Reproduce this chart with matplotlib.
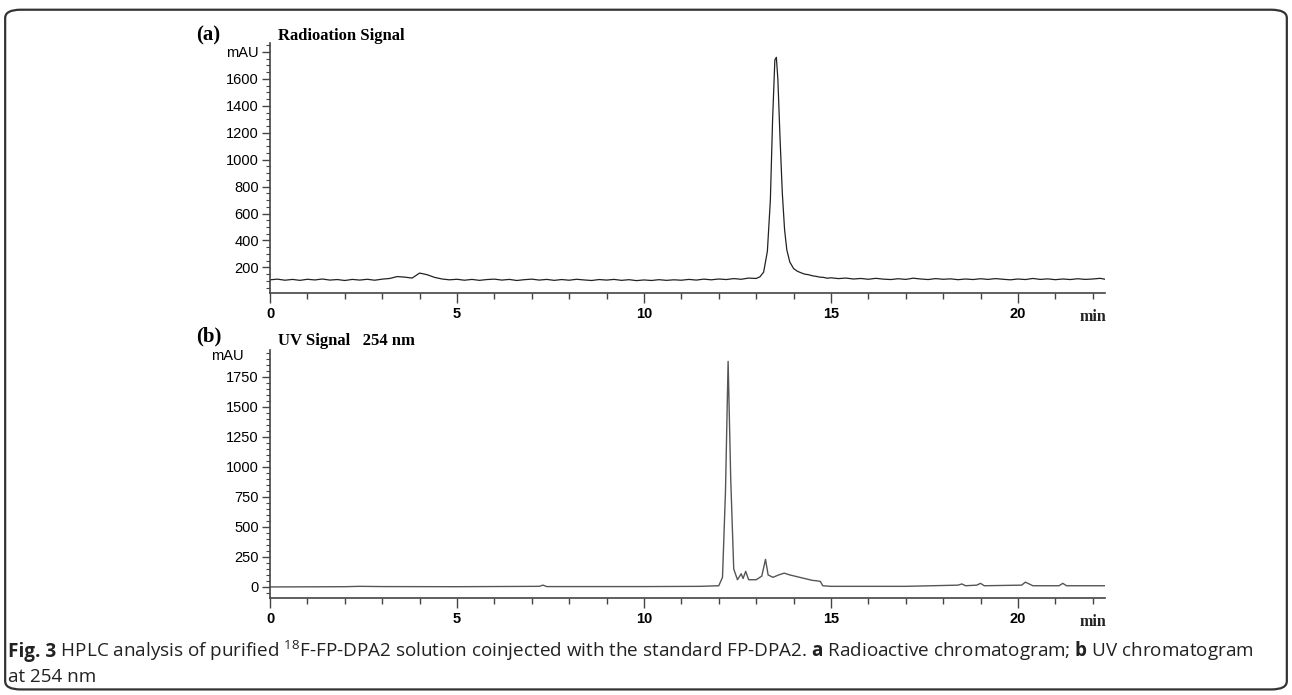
"""
HPLC du 18F-FP-DPA2 : signal radio (a) et UV 254 nm (b)
"""

import matplotlib
matplotlib.use("Agg")
import matplotlib.pyplot as plt
from matplotlib.patches import FancyBboxPatch
from matplotlib.ticker import MultipleLocator
import matplotlib.transforms as mtransforms

# ── Données ───────────────────────────────────────────────────────────────────
# (a) signal de radioactivité (mAU) en fonction du temps (min)
radio_t = [0.0, 0.2, 0.4, 0.6, 0.8, 1.0, 1.2, 1.4, 1.6, 1.8, 2.0, 2.2, 2.4, 2.6,
           2.8, 3.0, 3.2, 3.4, 3.6, 3.8, 4.0, 4.2, 4.4, 4.6, 4.8, 5.0, 5.2, 5.4,
           5.6, 5.8, 6.0, 6.2, 6.4, 6.6, 6.8, 7.0, 7.2, 7.4, 7.6, 7.8, 8.0, 8.2,
           8.4, 8.6, 8.8, 9.0, 9.2, 9.4, 9.6, 9.8, 10.0, 10.2, 10.4, 10.6, 10.8,
           11.0, 11.2, 11.4, 11.6, 11.8, 12.0, 12.2, 12.4, 12.6, 12.8, 13.0,
           13.1, 13.2, 13.3, 13.38, 13.44, 13.5, 13.54, 13.58, 13.64, 13.7, 13.76,
           13.82, 13.9, 14.0, 14.1, 14.2, 14.3, 14.4, 14.5, 14.6, 14.7, 14.8, 14.9,
           15.0, 15.2, 15.4, 15.6, 15.8, 16.0, 16.2, 16.4, 16.6, 16.8, 17.0, 17.2,
           17.4, 17.6, 17.8, 18.0, 18.2, 18.4, 18.6, 18.8, 19.0, 19.2, 19.4, 19.6,
           19.8, 20.0, 20.2, 20.4, 20.6, 20.8, 21.0, 21.2, 21.4, 21.6, 21.8, 22.0,
           22.2, 22.33]
radio_v = [108, 113, 105, 111, 104, 112, 107, 114, 106, 110, 103, 111, 106, 112,
           105, 113, 118, 132, 128, 121, 158, 146, 126, 114, 108, 112, 105, 111,
           104, 110, 113, 106, 111, 103, 109, 113, 106, 111, 104, 110, 105, 112,
           107, 103, 110, 106, 111, 104, 109, 102, 107, 103, 109, 104, 108,
           105, 111, 106, 113, 108, 114, 110, 117, 112, 121, 118,
           130, 165, 320, 700, 1300, 1740, 1760, 1600, 1150, 750, 480,
           330, 240, 192, 172, 160, 150, 146, 138, 134, 128, 126, 120,
           123, 117, 121, 114, 118, 112, 119, 113, 110, 116, 111, 120,
           114, 110, 117, 112, 115, 109, 114, 110, 116, 111, 117, 112,
           108, 114, 110, 118, 111, 115, 109, 114, 110, 116, 111, 114,
           119, 112]

# (b) signal UV 254 nm (mAU)
uv_t = [0, 2.0, 2.4, 3.0, 5.0, 7.2, 7.3, 7.4, 10.0, 11.5, 12.0, 12.1, 12.18,
        12.25, 12.32, 12.4, 12.5, 12.6, 12.65, 12.72, 12.8, 13.0, 13.15, 13.25,
        13.32, 13.45, 13.6, 13.75, 13.9, 14.1, 14.3, 14.5, 14.65, 14.72, 14.78,
        15.0, 17.0, 18.4, 18.5, 18.6, 18.9, 19.0, 19.1, 20.1, 20.2, 20.3, 20.4,
        21.1, 21.2, 21.3, 22.33]
uv_v = [0, 2, 5, 3, 2, 5, 15, 3, 3, 5, 10, 80, 800,
        1880, 900, 150, 60, 110, 70, 130, 60, 60, 90, 230,
        100, 80, 100, 115, 100, 85, 70, 55, 50, 45, 10,
        5, 5, 15, 25, 10, 15, 30, 10, 15, 40, 25, 10,
        10, 30, 10, 10]

radio_yticks = [200, 400, 600, 800, 1000, 1200, 1400, 1600, 1800]
radio_ylabels = ["200", "400", "600", "800", "1000", "1200", "1400", "1600", "mAU"]
uv_yticks = [0, 250, 500, 750, 1000, 1250, 1500, 1750]
x_ticks = [0, 5, 10, 15, 20]

caption_head = "Fig. 3"
caption_l1 = (r" HPLC analysis of purified $^{18}$F-FP-DPA2 solution "
              r"coinjected with the standard FP-DPA2. $\mathbf{a}$ Radioactive "
              r"chromatogram; $\mathbf{b}$ UV chromatogram")
caption_l2 = "at 254 nm"

# ── Style ─────────────────────────────────────────────────────────────────────
plt.rcParams["font.family"] = ["Liberation Sans", "DejaVu Sans"]
plt.rcParams["mathtext.fontset"] = "custom"
plt.rcParams["mathtext.rm"] = "Open Sans"
plt.rcParams["mathtext.bf"] = "Open Sans:bold"

AXC = "#444444"
SERIF = ["Liberation Serif", "DejaVu Serif"]
CAPFONT = ["Open Sans", "DejaVu Sans"]

fig = plt.figure(figsize=(12.92, 6.95), dpi=100)

# cadre arrondi autour de la figure
frame = FancyBboxPatch((0.004, 0.008), 0.992, 0.978,
                       boxstyle="round,pad=0,rounding_size=0.012",
                       transform=fig.transFigure, fill=False,
                       edgecolor="#333333", linewidth=1.6)
fig.patches.append(frame)

ax_a = fig.add_axes([0.209, 0.5784, 0.6463, 0.3597])
ax_b = fig.add_axes([0.209, 0.1396, 0.6463, 0.3568])


def style_axis(ax):
    for side in ("top", "right"):
        ax.spines[side].set_visible(False)
    for side in ("left", "bottom"):
        ax.spines[side].set_color(AXC)
        ax.spines[side].set_linewidth(1.2)
    ax.set_xlim(0, 22.33)
    ax.set_xticks(x_ticks)
    ax.xaxis.set_minor_locator(MultipleLocator(1))
    ax.tick_params(axis="x", which="major", length=7, width=1, color=AXC,
                   labelsize=10.5, pad=3)
    ax.tick_params(axis="x", which="minor", length=4, width=1, color=AXC)
    ax.tick_params(axis="y", which="major", length=6, width=1, color=AXC,
                   labelsize=10.5, pad=2)
    ax.tick_params(axis="y", which="minor", length=3, width=0.8, color=AXC)
    for lab in ax.get_xticklabels():
        lab.set_fontweight("bold")
    ax.text(22.0, -0.065, "min", transform=mtransforms.blended_transform_factory(
        ax.transData, ax.transAxes), ha="center", va="top", family=SERIF,
        fontsize=11.5, fontweight="bold", color="#222222")


# ── (a) Radioactivité ─────────────────────────────────────────────────────────
ax_a.plot(radio_t, radio_v, color="#222222", linewidth=0.9)
ax_a.set_ylim(10, 1866)
ax_a.set_yticks(radio_yticks)
ax_a.set_yticklabels(radio_ylabels)
ax_a.yaxis.set_minor_locator(MultipleLocator(50))
style_axis(ax_a)

fig.text(0.152, 0.942, "(a)", family=SERIF, fontsize=15, fontweight="bold",
         ha="left", va="baseline")
fig.text(0.215, 0.942, "Radioation Signal", family=SERIF, fontsize=12,
         fontweight="bold", ha="left", va="baseline")

# ── (b) UV 254 nm ─────────────────────────────────────────────────────────────
ax_b.plot(uv_t, uv_v, color="#555555", linewidth=1.0)
ax_b.set_ylim(-92, 1975)
ax_b.set_yticks(uv_yticks)
ax_b.yaxis.set_minor_locator(MultipleLocator(50))
style_axis(ax_b)
ax_b.text(-0.032, 1925, "mAU", transform=mtransforms.blended_transform_factory(
    ax_b.transAxes, ax_b.transData), ha="right", va="center", fontsize=10.5)

fig.text(0.152, 0.508, "(b)", family=SERIF, fontsize=15, fontweight="bold",
         ha="left", va="baseline")
fig.text(0.215, 0.504, "UV Signal   254 nm", family=SERIF, fontsize=12,
         fontweight="bold", ha="left", va="baseline")

# ── Légende ───────────────────────────────────────────────────────────────────
head = fig.text(0.006, 0.055, caption_head, family=CAPFONT, fontsize=13.6,
                fontweight="bold", ha="left", va="baseline", color="#222222")
renderer = fig.canvas.get_renderer()
bb = head.get_window_extent(renderer).transformed(fig.transFigure.inverted())
fig.text(bb.x1, 0.055, caption_l1, family=CAPFONT, fontsize=13.6,
         ha="left", va="baseline", color="#222222")
fig.text(0.006, 0.018, caption_l2, family=CAPFONT, fontsize=13.6,
         ha="left", va="baseline", color="#222222")

fig.savefig("out.png", dpi=100)
